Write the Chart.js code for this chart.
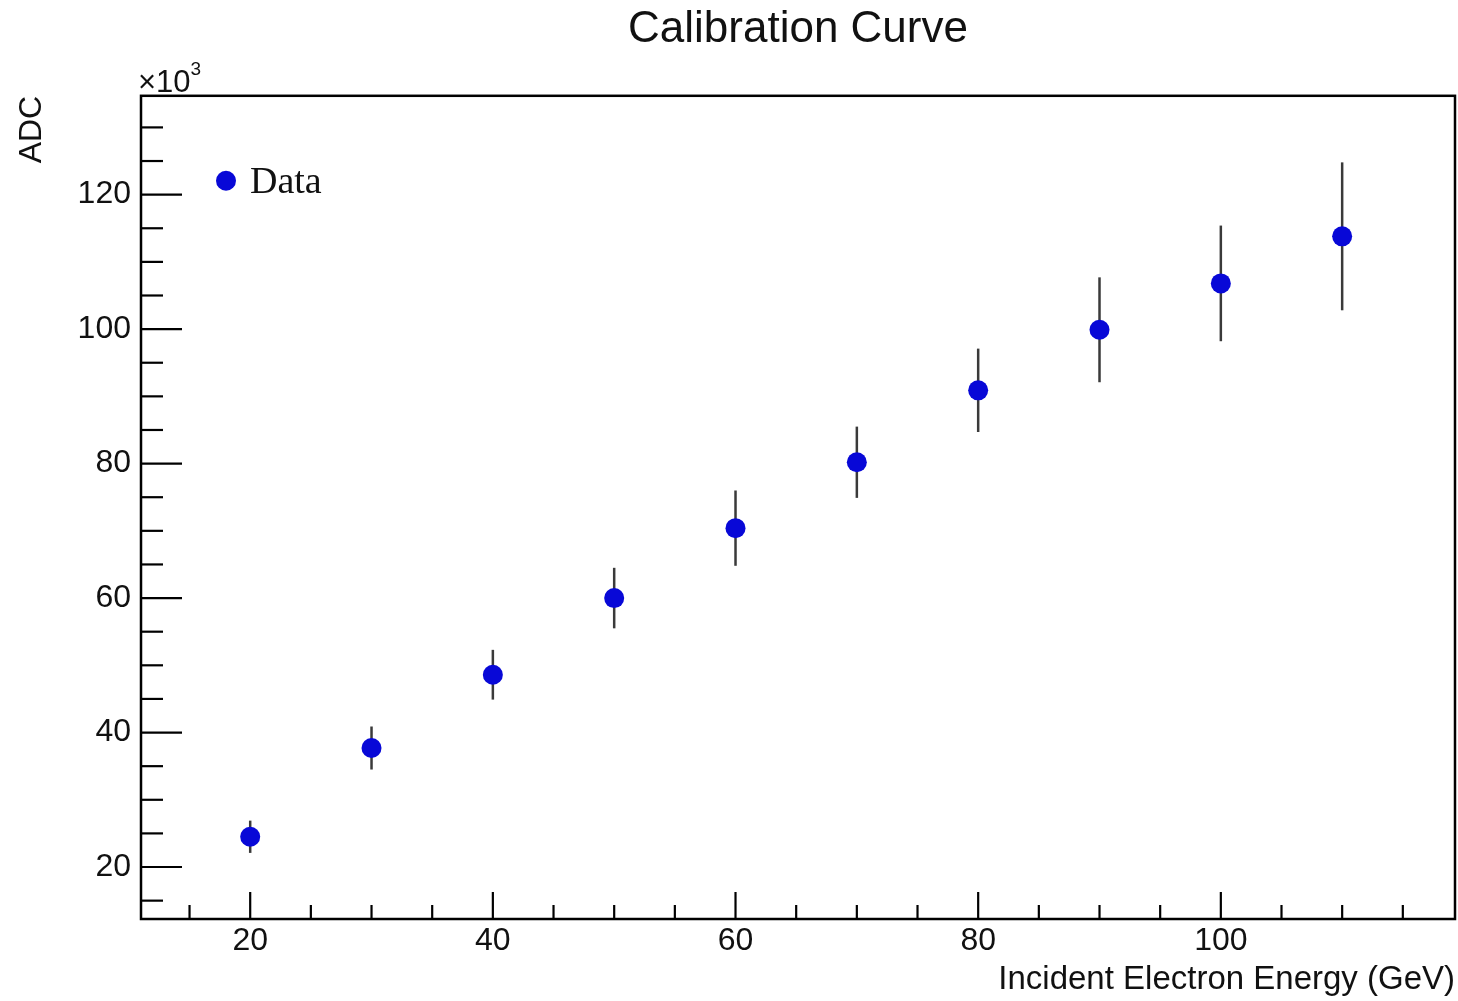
<!DOCTYPE html>
<html>
<head>
<meta charset="utf-8">
<script src="https://cdn.jsdelivr.net/npm/chart.js@4"></script>
<style>
  html, body { margin: 0; padding: 0; background: #fff; }
  #wrap { width: 1458px; height: 1001px; }
</style>
</head>
<body>
<div id="wrap"><canvas id="myChart"></canvas></div>
<script>
// values (ADC in units of 10^3)
const energy = [20, 30, 40, 50, 60, 70, 80, 90, 100, 110];
const adc    = [24.5, 37.7, 48.6, 60.0, 70.4, 80.2, 90.9, 99.9, 106.8, 113.8];
const adcErr = [2.4, 3.2, 3.7, 4.5, 5.6, 5.3, 6.2, 7.8, 8.6, 11.0];

const xLabelTicks = [20, 40, 60, 80, 100];
const yLabelTicks = [20, 40, 60, 80, 100, 120];
const xTickMarks = [15, 20, 25, 30, 35, 40, 45, 50, 55, 60, 65, 70, 75, 80, 85, 90, 95, 100, 105, 110, 115];
const yTickMarks = [15, 20, 25, 30, 35, 40, 45, 50, 55, 60, 65, 70, 75, 80, 85, 90, 95, 100, 105, 110, 115, 120, 125, 130];

const markerColor = "rgb(8,8,215)";
const sans = "'Liberation Sans', Arial, Helvetica, sans-serif";

Chart.defaults.font.family = sans;
Chart.defaults.color = "#111";

// ROOT look: frame, inward ticks, error bars, legend and the x10^3 tag
const rootStyle = {
  id: "rootStyle",
  beforeDatasetsDraw(chart) {
    const ctx = chart.ctx, x = chart.scales.x, y = chart.scales.y;
    ctx.save();
    ctx.strokeStyle = "#3a3a3a";
    ctx.lineWidth = 2.5;
    energy.forEach((e, i) => {
      const px = x.getPixelForValue(e);
      ctx.beginPath();
      ctx.moveTo(px, y.getPixelForValue(adc[i] - adcErr[i]));
      ctx.lineTo(px, y.getPixelForValue(adc[i] + adcErr[i]));
      ctx.stroke();
    });
    ctx.restore();
  },
  afterDraw(chart) {
    const ctx = chart.ctx, a = chart.chartArea, x = chart.scales.x, y = chart.scales.y;
    ctx.save();
    ctx.strokeStyle = "#000";
    ctx.lineWidth = 2.5;
    ctx.strokeRect(a.left, a.top, a.right - a.left, a.bottom - a.top);

    ctx.lineWidth = 2.2;
    xTickMarks.forEach(v => {
      const px = x.getPixelForValue(v);
      const len = v % 20 === 0 ? 27 : 14;
      ctx.beginPath();
      ctx.moveTo(px, a.bottom);
      ctx.lineTo(px, a.bottom - len);
      ctx.stroke();
    });
    yTickMarks.forEach(v => {
      const py = y.getPixelForValue(v);
      const len = v % 20 === 0 ? 41 : 22;
      ctx.beginPath();
      ctx.moveTo(a.left, py);
      ctx.lineTo(a.left + len, py);
      ctx.stroke();
    });

    // legend
    ctx.fillStyle = markerColor;
    ctx.beginPath();
    ctx.arc(a.left + 85, a.top + 85, 10, 0, Math.PI * 2);
    ctx.fill();
    ctx.fillStyle = "#111";
    ctx.font = "38px 'Liberation Serif', 'Times New Roman', serif";
    ctx.textBaseline = "alphabetic";
    ctx.textAlign = "left";
    ctx.fillText("Data", a.left + 109, a.top + 97);

    // exponent tag
    ctx.font = "31px " + sans;
    ctx.fillText("\u00d710", a.left - 3, a.top - 4);
    const w = ctx.measureText("\u00d710").width;
    ctx.font = "19px " + sans;
    ctx.fillText("3", a.left - 3 + w, a.top - 21);
    ctx.restore();
  }
};

new Chart("myChart", {
  type: "scatter",
  data: {
    datasets: [{
      label: "Data",
      data: energy.map((e, i) => ({ x: e, y: adc[i] })),
      backgroundColor: markerColor,
      borderWidth: 0,
      pointRadius: 10,
      pointHoverRadius: 10
    }]
  },
  options: {
    responsive: true,
    maintainAspectRatio: false,
    animation: false,
    layout: { autoPadding: false, padding: { left: 0, right: 3, top: 0, bottom: 0 } },
    plugins: {
      legend: { display: false },
      tooltip: { enabled: false },
      title: {
        display: true,
        text: "Calibration Curve",
        fullSize: false,
        color: "#111",
        font: { size: 44, weight: "normal", lineHeight: 1.2 },
        padding: { top: 3, bottom: 40 }
      }
    },
    scales: {
      x: {
        type: "linear",
        min: 11.0,
        max: 119.3,
        grid: { display: false, drawTicks: false },
        border: { display: false },
        afterBuildTicks: s => { s.ticks = xLabelTicks.map(v => ({ value: v })); },
        afterFit: s => { s.height = 82; },
        ticks: {
          autoSkip: false,
          maxRotation: 0,
          padding: 3,
          font: { size: 32 },
          callback: v => String(v)
        },
        title: {
          display: true,
          text: "Incident Electron Energy (GeV)",
          align: "end",
          font: { size: 33, lineHeight: 1.2 },
          padding: { top: 0, bottom: 1 }
        }
      },
      y: {
        type: "linear",
        min: 12.27,
        max: 134.7,
        grid: { display: false, drawTicks: false },
        border: { display: false },
        afterBuildTicks: s => { s.ticks = yLabelTicks.map(v => ({ value: v })); },
        afterFit: s => { s.width = 141; },
        ticks: {
          autoSkip: false,
          padding: 10,
          font: { size: 32 },
          callback: v => String(v)
        },
        title: {
          display: true,
          text: "ADC",
          align: "end",
          font: { size: 32, lineHeight: 1.2 },
          padding: { top: 13, bottom: 0 }
        }
      }
    }
  },
  plugins: [rootStyle]
});
</script>
</body>
</html>
